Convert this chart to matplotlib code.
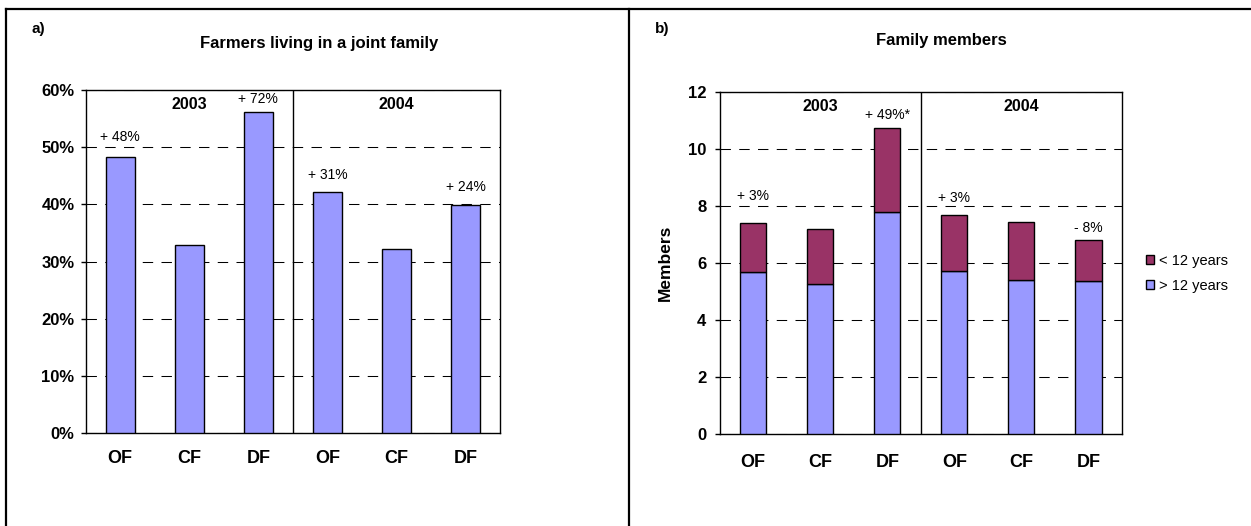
import matplotlib
matplotlib.use("Agg")
import matplotlib.pyplot as plt
from matplotlib.lines import Line2D
from matplotlib.patches import Patch

plt.rcParams['font.family'] = ['Liberation Sans', 'DejaVu Sans']

# ---------------- data ----------------
categories = ["OF", "CF", "DF", "OF", "CF", "DF"]
years = ["2003", "2004"]

# panel a: share of farmers living in a joint family (%)
joint_family = [48.3, 32.8, 56.2, 42.2, 32.1, 39.9]
joint_ticks = [0, 10, 20, 30, 40, 50, 60]
joint_ticklabels = ["0%", "10%", "20%", "30%", "40%", "50%", "60%"]
joint_annot_idx = [0, 2, 3, 5]
joint_annot_txt = ["+ 48%", "+ 72%", "+ 31%", "+ 24%"]
joint_annot_y = [51.7, 58.5, 45.2, 43.0]

# panel b: family members
members_over12 = [5.69, 5.27, 7.80, 5.73, 5.42, 5.36]
members_under12 = [1.71, 1.94, 2.95, 1.94, 2.03, 1.45]
members_ticks = [0, 2, 4, 6, 8, 10, 12]
members_annot_idx = [0, 2, 3, 5]
members_annot_txt = ["+ 3%", "+ 49%*", "+ 3%", "- 8%"]
members_annot_y = [8.34, 11.2, 8.28, 7.22]

BLUE = "#9999FF"
MAROON = "#993366"

W, H = 1251, 526
fig = plt.figure(figsize=(W / 100, H / 100), dpi=100)


def fx(px):
    return px / W


def fy(py):
    return 1 - py / H


def style_axes(ax, ymax, ypad, xpad):
    ax.set_xlim(-0.5, len(categories) - 0.5)
    ax.set_ylim(0, ymax)
    ax.set_axisbelow(True)
    ax.yaxis.grid(True, linestyle=(0, (10, 8)), color="black", linewidth=0.75)
    ax.xaxis.grid(False)
    for s in ax.spines.values():
        s.set_color("black")
        s.set_linewidth(1.0)
    ax.axvline(2.5, color="black", linewidth=1.0)
    ax.set_xticks(range(len(categories)))
    ax.set_xticklabels(categories, fontsize=13, fontweight="bold")
    ax.tick_params(axis="x", length=0, pad=xpad)
    ax.tick_params(axis="y", direction="out", length=3.6, width=1, pad=ypad)
    for lbl in ax.get_yticklabels():
        lbl.set_fontweight("bold")
        lbl.set_fontsize(12)


# ---------------- panel a ----------------
axa = fig.add_axes([fx(85.7), fy(433), fx(500.2) - fx(85.7), fy(90) - fy(433)])
x = range(len(categories))
axa.bar(x, joint_family, width=0.42, color=BLUE, edgecolor="black", linewidth=1.0, zorder=3)
axa.set_yticks(joint_ticks)
axa.set_yticklabels(joint_ticklabels)
style_axes(axa, 60, 4.5, 12)
axa.text(1, 57.4, years[0], ha="center", va="center", fontsize=11.5, fontweight="bold")
axa.text(4, 57.4, years[1], ha="center", va="center", fontsize=11.5, fontweight="bold")
for i, t, yv in zip(joint_annot_idx, joint_annot_txt, joint_annot_y):
    axa.text(i, yv, t, ha="center", va="center", fontsize=10)

fig.text(fx(318.8), fy(43.6), "Farmers living in a joint family", ha="center", va="center",
         fontsize=12, fontweight="bold")
fig.text(fx(31), fy(28.5), "a)", ha="left", va="center", fontsize=11, fontweight="bold")

# ---------------- panel b ----------------
axb = fig.add_axes([fx(719.6), fy(434), fx(1122) - fx(719.6), fy(92) - fy(434)])
axb.bar(x, members_over12, width=0.39, color=BLUE, edgecolor="black", linewidth=1.0,
        zorder=3, label="> 12 years")
axb.bar(x, members_under12, width=0.39, bottom=members_over12, color=MAROON,
        edgecolor="black", linewidth=1.0, zorder=3, label="< 12 years")
axb.set_yticks(members_ticks)
axb.set_yticklabels([str(v) for v in members_ticks])
style_axes(axb, 12, 6, 14.5)
axb.text(1, 11.48, years[0], ha="center", va="center", fontsize=11.5, fontweight="bold")
axb.text(4, 11.48, years[1], ha="center", va="center", fontsize=11.5, fontweight="bold")
for i, t, yv in zip(members_annot_idx, members_annot_txt, members_annot_y):
    axb.text(i, yv, t, ha="center", va="center", fontsize=10)
fig.text(fx(665.5), (fy(434) + fy(92)) / 2, "Members", rotation=90, ha="center", va="center",
         fontsize=12.5, fontweight="bold")

fig.text(fx(941.6), fy(40.3), "Family members", ha="center", va="center",
         fontsize=12, fontweight="bold")
fig.text(fx(655), fy(28.5), "b)", ha="left", va="center", fontsize=11, fontweight="bold")

handles = [Patch(facecolor=MAROON, edgecolor="black", linewidth=1.0),
           Patch(facecolor=BLUE, edgecolor="black", linewidth=1.0)]
fig.legend(handles, ["< 12 years", "> 12 years"], loc="center left",
           bbox_to_anchor=(fx(1146), fy(273.5)), frameon=False, fontsize=10.5,
           handlelength=0.55, handleheight=0.55, handletextpad=0.35, labelspacing=0.75,
           borderaxespad=0, borderpad=0)

# ---------------- outer frame ----------------
lw = 1.6
fig.add_artist(Line2D([fx(6), fx(6)], [fy(9.3), 0], color="black", linewidth=lw,
                      transform=fig.transFigure))
fig.add_artist(Line2D([fx(6), 1], [fy(9.3), fy(9.3)], color="black", linewidth=lw,
                      transform=fig.transFigure))
fig.add_artist(Line2D([fx(629), fx(629)], [fy(9.3), 0], color="black", linewidth=lw,
                      transform=fig.transFigure))

fig.savefig("out.png", dpi=100)
